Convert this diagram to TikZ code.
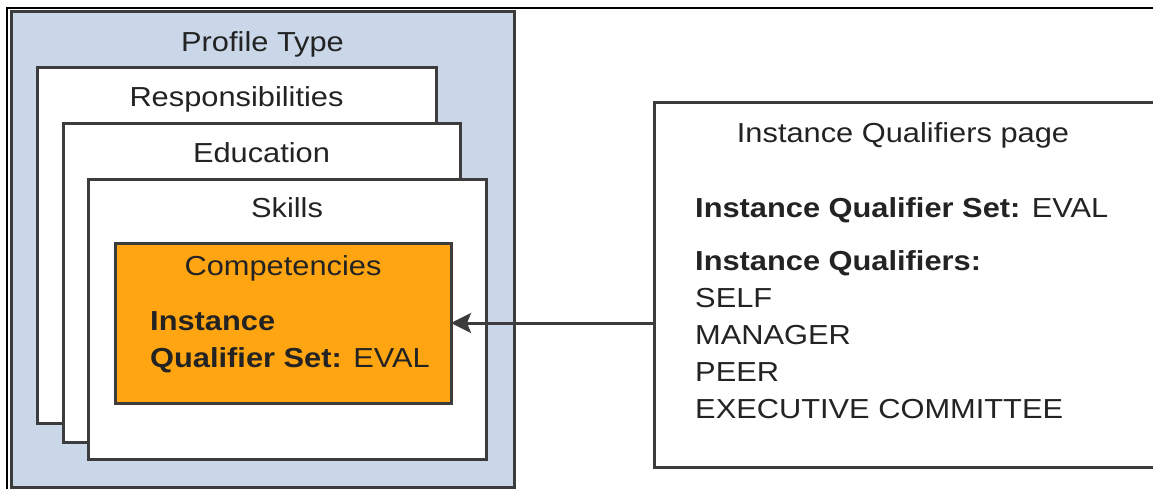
\documentclass[tikz,border=0pt]{standalone}
\usepackage{fontspec}
\setmainfont{Liberation Sans}[FakeStretch=1.12]
\usetikzlibrary{arrows.meta}
\definecolor{profileblue}{RGB}{202,215,233}
\definecolor{comporange}{RGB}{255,165,17}
\definecolor{boxline}{RGB}{60,60,60}
\definecolor{labeltext}{RGB}{35,35,35}
\begin{document}
\begin{tikzpicture}[x=1pt,y=-1pt]
\tikzstyle{every node}=[font=\fontsize{27.5}{37}\selectfont, text=labeltext, inner sep=0pt]
\tikzstyle{layer}=[draw=boxline, line width=3pt, fill=white, outer sep=0pt]
\useasboundingbox (0,0) rectangle (1153,489);
\clip (0,0) rectangle (1153,489);
\draw[line width=1.5pt] (1153,8) -- (7,8) -- (7,489);
%%%%%%%%%%%%%
\node[layer, fill=profileblue, minimum width=503pt, minimum height=475pt] (ptype) at (262.5,249.5) {};
\node[layer, minimum width=399pt, minimum height=355pt] (resp) at (236.5,245.5) {};
\node[layer, minimum width=397pt, minimum height=318pt] (edu) at (261.5,283) {};
\node[layer, minimum width=398pt, minimum height=279pt] (skills) at (287,319.5) {};
\node[layer, fill=comporange, minimum width=336pt, minimum height=160pt] (comp) at (283,323) {};
\node[layer, minimum width=560pt, minimum height=364pt] (qpage) at (934,285) {};
%%%%%%%%%%%%%
\node[anchor=base] (ptypetitle) at ([yshift=-40pt]ptype.north) {Profile Type};
\node[anchor=base] (resptitle) at ([yshift=-39pt]resp.north) {Responsibilities};
\node[anchor=base] (edutitle) at ([yshift=-39pt]edu.north) {Education};
\node[anchor=base] (skillstitle) at ([yshift=-38pt]skills.north) {Skills};
\node[anchor=base] (comptitle) at ([yshift=-32pt]comp.north) {Competencies};
\node[anchor=base west] (compset) at (150,330) {\textbf{Instance}};
\node[anchor=base west] (compeval) at (150,367) {\textbf{Qualifier Set:} EVAL};
%%%%%%%%%%%%%
\node[anchor=base] (qtitle) at (903,143) {Instance Qualifiers page};
\node[anchor=base west] (qset) at (695,218) {\textbf{Instance Qualifier Set:} EVAL};
\node[anchor=base west] (qlist) at (695,270) {\textbf{Instance Qualifiers:}};
\node[anchor=base west] (qself) at (695,307) {SELF};
\node[anchor=base west] (qmanager) at (695,344) {MANAGER};
\node[anchor=base west] (qpeer) at (695,381) {PEER};
\node[anchor=base west] (qexec) at (695,418) {EXECUTIVE COMMITTEE};
%%%%%%%%%%%%%
\draw[boxline, line width=3pt, -{Stealth[length=20pt, width=20pt, inset=4pt]}] (qpage.west |- comp.east) -- (comp.east);
\end{tikzpicture}
\end{document}
